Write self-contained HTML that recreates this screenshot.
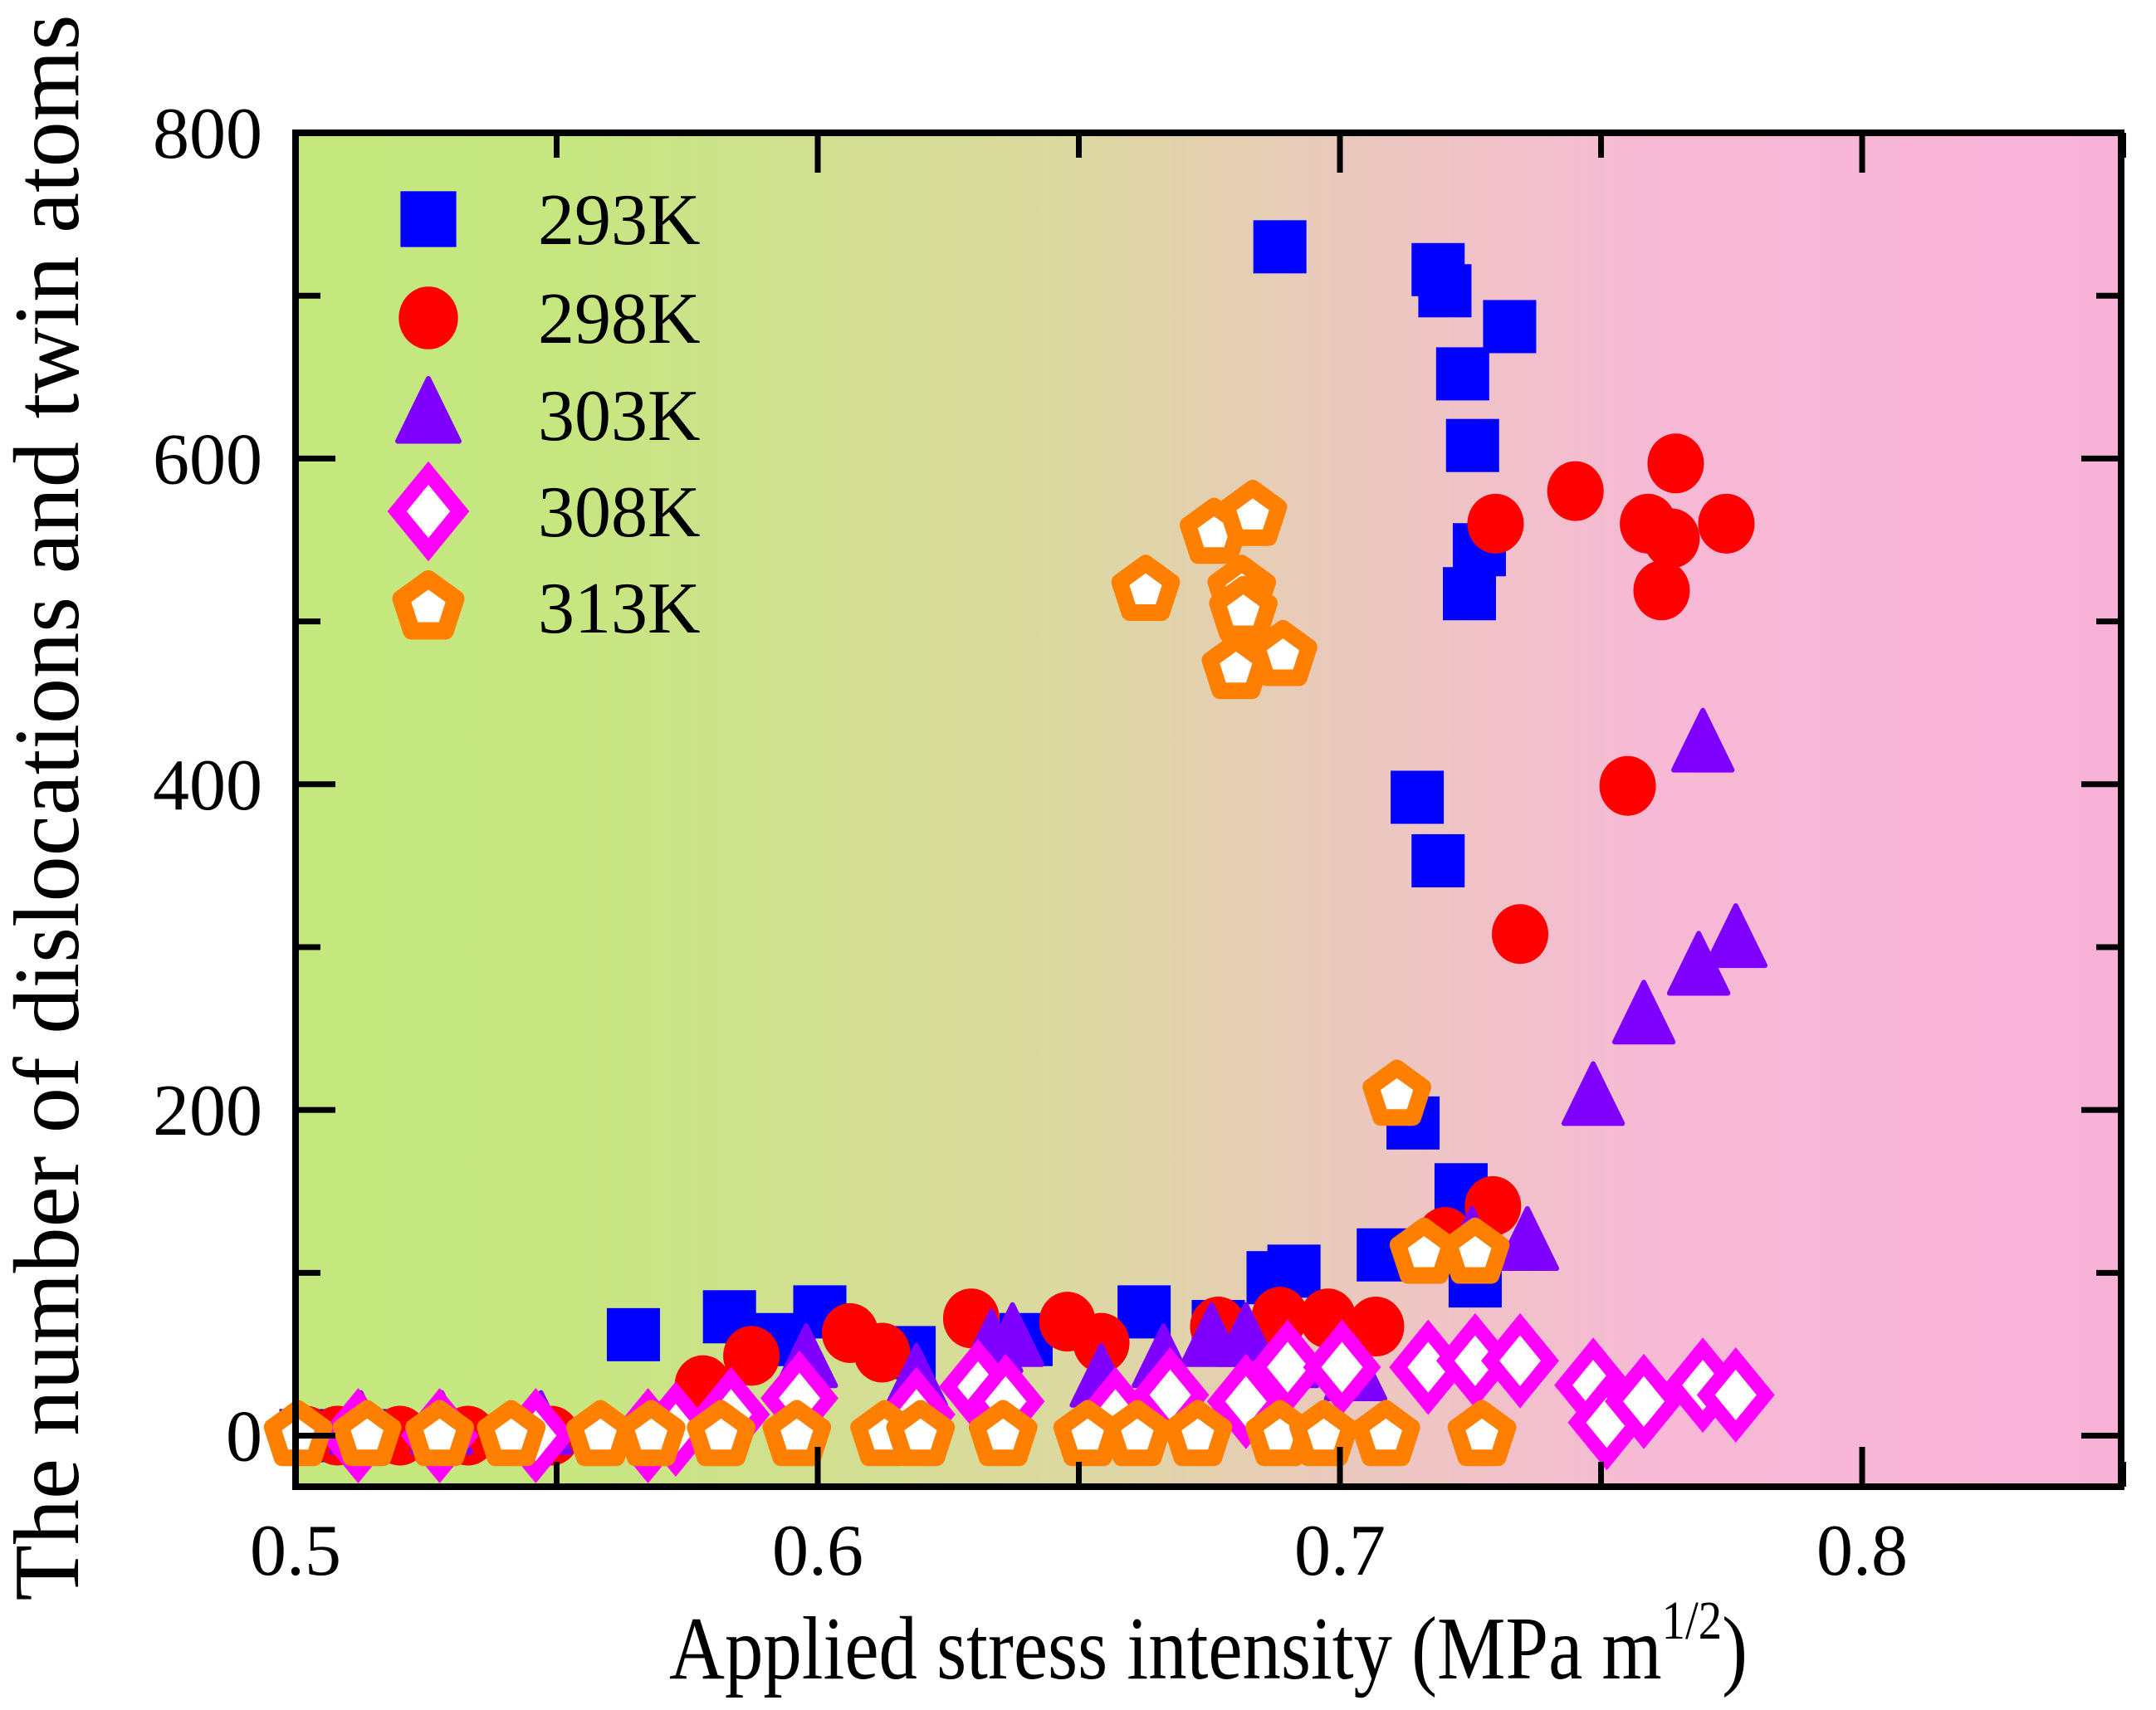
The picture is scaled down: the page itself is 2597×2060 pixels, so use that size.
<!DOCTYPE html>
<html><head><meta charset="utf-8"><style>
html,body{margin:0;padding:0;background:#fff;}
svg{display:block;font-family:"Liberation Serif",serif;}
</style></head><body>
<svg id="chart" width="2597" height="2060" viewBox="0 0 2597 2060">
<defs>
<linearGradient id="bg" x1="0" x2="1" y1="0" y2="0">
<stop offset="0" stop-color="#c4e87e"/>
<stop offset="0.15" stop-color="#c6e680"/>
<stop offset="0.42" stop-color="#dcd9a0"/>
<stop offset="0.58" stop-color="#ebc8be"/>
<stop offset="0.75" stop-color="#f7b9d6"/>
<stop offset="1" stop-color="#f8b2d8"/>
</linearGradient>
</defs>
<rect x="356" y="160" width="2199" height="1631" fill="url(#bg)"/>
<g id="marks"></g>
<g id="axes"></g>
<text transform="translate(94,973) rotate(-90)" text-anchor="middle" font-size="112" textLength="1911" lengthAdjust="spacingAndGlyphs">The number of dislocations and twin atoms</text>
<text x="806" y="2022" font-size="108" textLength="1299" lengthAdjust="spacingAndGlyphs">Applied stress intensity (MPa m<tspan font-size="66" dy="-48">1/2</tspan><tspan dy="48">)</tspan></text>
<g id="legend"></g>
</svg>
<script>
const xTicks=[0.5,0.6,0.7,0.8];
const yTicks=[0,200,400,600,800];
const seriesNames=["293K","298K","303K","308K","313K"];
const x293=[0.502,0.515,0.53,0.545,0.5647,0.5831,0.5912,0.6004,0.6175,0.6399,0.6625,0.6767,0.6872,0.6912,0.7083,0.7148,0.7188,0.714,0.7232,0.7259,0.7267,0.7248,0.7254,0.7235,0.7201,0.7188,0.6885,0.7325];
const y293=[0,0,0,0,62,73,59,76,51,59,76,67,97,101,111,392,353,192,151,95,544,517,608,652,703,716,730,681];
const x298=[0.502,0.508,0.52,0.533,0.549,0.578,0.5873,0.6062,0.6123,0.6294,0.6478,0.6543,0.6767,0.6885,0.6977,0.7069,0.7201,0.7293,0.7345,0.7298,0.7451,0.7551,0.759,0.7635,0.7643,0.7616,0.774];
const y298=[0,0,0,0,0,31,49,63,51,72,70,57,67,73,72,67,122,141,308,560,580,399,560,551,597,519,560];
const x303=[0.5125,0.528,0.547,0.5978,0.6189,0.6333,0.6373,0.6543,0.6662,0.6754,0.682,0.69,0.703,0.7253,0.7359,0.7485,0.7582,0.7687,0.7758,0.7695];
const y303=[5,5,5,46,34,55,59,34,46,59,59,46,38,118,118,207,257,287,304,424];
const x308=[0.512,0.5276,0.546,0.5675,0.5728,0.5834,0.5965,0.6189,0.6307,0.636,0.657,0.6675,0.682,0.69,0.7004,0.7169,0.7259,0.7345,0.7485,0.7511,0.7582,0.7695,0.7758];
const y308=[0,0,0,0,4,13,23,13,30,21,13,25,21,42,42,42,46,46,31,8,21,31,25];
const x313=[0.5005,0.5137,0.5276,0.5413,0.5584,0.5681,0.5815,0.596,0.6128,0.6197,0.6355,0.6517,0.6612,0.6728,0.6885,0.6969,0.7088,0.7272,0.7109,0.7161,0.7259,0.6628,0.6759,0.6833,0.6812,0.6815,0.6801,0.6891];
const y313=[0,0,0,0,0,0,0,0,0,0,0,0,0,0,0,0,0,0,209,112,112,519,554,565,519,506,471,479];

const NS="http://www.w3.org/2000/svg";
const L=356,R=2555,T=160,B=1791;
const xMin=0.5,xMax=0.8496,yMax=800,Y0=1729.5;
function sx(v){return L+(v-xMin)/(xMax-xMin)*(R-L);}
function sy(v){return Y0-(v)*(Y0-T)/yMax;}
function el(tag,attrs,parent){const e=document.createElementNS(NS,tag);for(const k in attrs)e.setAttribute(k,attrs[k]);parent.appendChild(e);return e;}
const marks=document.getElementById('marks');
const axes=document.getElementById('axes');
const legend=document.getElementById('legend');

function square(cx,cy,g,s){return el('rect',{x:cx-s*32,y:cy-s*32,width:s*64,height:s*64,fill:'#0000ff'},g);}
function circle(cx,cy,g,s){return el('ellipse',{cx:cx,cy:cy,rx:s*34,ry:s*36,fill:'#ff0000'},g);}
function tri(cx,cy,g,s){const h=s*40;return el('polygon',{points:`${cx},${cy-h*1.05} ${cx+h*0.88},${cy+h*0.75} ${cx-h*0.88},${cy+h*0.75}`,fill:'#8000ff',stroke:'#8000ff','stroke-width':6,'stroke-linejoin':'round'},g);}
function diamond(cx,cy,g,s){const w=s*36,h=s*44;return el('polygon',{points:`${cx},${cy-h} ${cx+w},${cy} ${cx},${cy+h} ${cx-w},${cy}`,fill:'#ffffff',stroke:'#ff00ff','stroke-width':s*17,'stroke-linejoin':'miter'},g);}
function pent(cx,cy,g,s){const r=s*33;let p=[];for(let i=0;i<5;i++){const a=-Math.PI/2+i*2*Math.PI/5;p.push((cx+r*Math.cos(a)).toFixed(1)+','+(cy+r*Math.sin(a)).toFixed(1));}return el('polygon',{points:p.join(' '),fill:'#ffffff',stroke:'#ff8000','stroke-width':s*20,'stroke-linejoin':'round'},g);}
const shapes=[square,circle,tri,diamond,pent];
const xs=[x293,x298,x303,x308,x313], ys=[y293,y298,y303,y308,y313];
const ids=['293k','298k','303k','308k','313k'];

for(let s=0;s<5;s++){
  const g=el('g',{},marks);
  
  
  for(let i=0;i<xs[s].length;i++){
    const m=shapes[s](sx(xs[s][i]),sy(ys[s][i]),g,1);
    
    
  }
}

const frame=el('rect',{x:L,y:T,width:R-L,height:B-T,fill:'none',stroke:'#000','stroke-width':8},axes);


for(let v=0.5;v<=0.85001;v+=0.05){
  const x=sx(v);const major=Math.abs(v*10-Math.round(v*10))<1e-6;const len=major?48:30;
  const t1=el('line',{x1:x,x2:x,y1:B,y2:B-len,stroke:'#000','stroke-width':7},axes);
  
  
  const t2=el('line',{x1:x,x2:x,y1:T,y2:T+len,stroke:'#000','stroke-width':7},axes);
  
  
}
xTicks.forEach(v=>{
  const t=el('text',{x:sx(v),y:1897,'font-size':88,'text-anchor':'middle'},axes);t.textContent=String(v);
  
  
});
for(let v=0;v<=800;v+=100){
  const y=sy(v);const len=(v%200===0)?48:30;
  const t1=el('line',{x1:L,x2:L+len,y1:y,y2:y,stroke:'#000','stroke-width':7},axes);
  
  
  const t2=el('line',{x1:R,x2:R-len,y1:y,y2:y,stroke:'#000','stroke-width':7},axes);
  
  
}
yTicks.forEach(v=>{
  const t=el('text',{x:316,y:sy(v)+30,'font-size':88,'text-anchor':'end'},axes);t.textContent=String(v);
  
  
});
const legY=[264,383,500,616,732];
for(let s=0;s<5;s++){
  const g=el('g',{},legend);
  
  
  shapes[s](516,legY[s],g,1.05);
  const t=el('text',{x:648,y:legY[s]+30,'font-size':88},g);t.textContent=seriesNames[s];
}
</script>
</body></html>
